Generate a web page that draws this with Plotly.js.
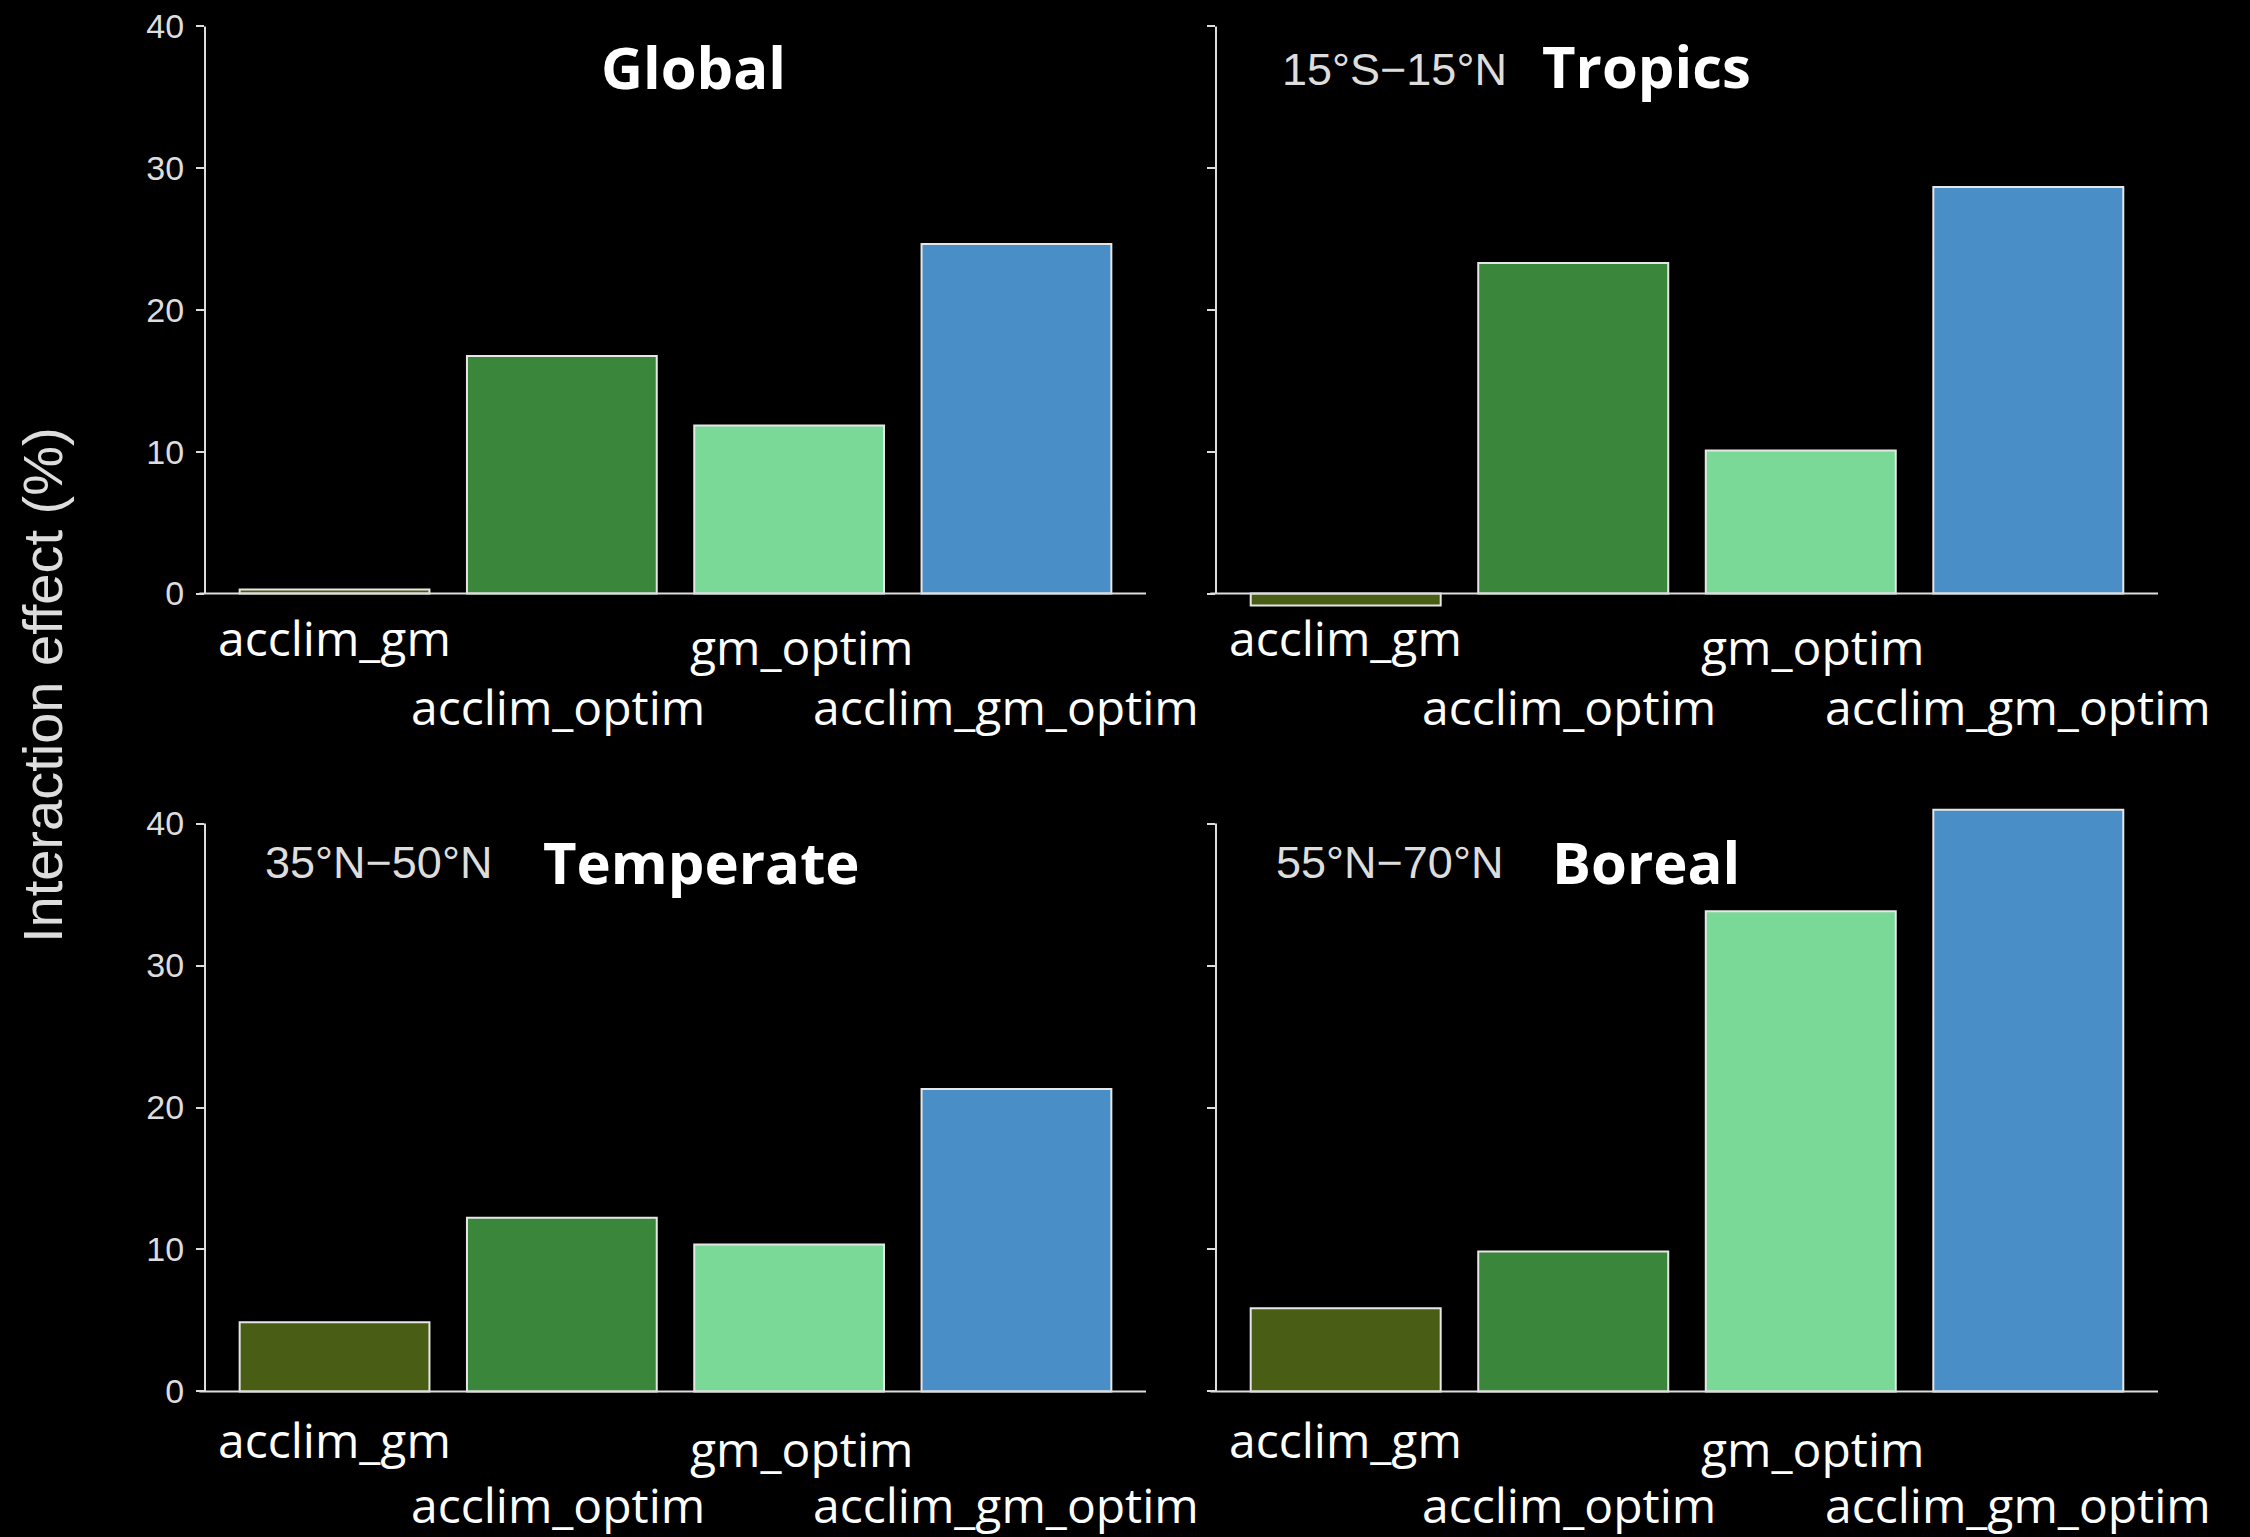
<!DOCTYPE html>
<html>
<head>
<meta charset="utf-8">
<script src="https://cdn.plot.ly/plotly-3.0.1.min.js"></script>
<style>html,body{margin:0;padding:0;background:#000;}#chart{width:2250px;height:1537px;}</style>
</head>
<body>
<div id="chart"></div>
<script>
// ---- data ----
const categories = ['acclim_gm', 'acclim_optim', 'gm_optim', 'acclim_gm_optim'];
const globalVals = [0.28, 16.75, 11.86, 24.66];
const tropicsVals = [-0.85, 23.31, 10.08, 28.68];
const temperateVals = [4.88, 12.23, 10.36, 21.3];
const borealVals = [5.87, 9.85, 33.82, 40.96];
const panelNames = ['Global', 'Tropics', 'Temperate', 'Boreal'];
const panelRanges = ['', '15°S\u221215°N', '35°N\u221250°N', '55°N\u221270°N'];
const yTickVals = [0, 10, 20, 30, 40];
const yTitle = 'Interaction effect (%)';

// ---- styling ----
const barColors = ['#4a5d14', '#3a873c', '#7bd998', '#4a8ec8'];
const W = 2250, H = 1537;
const xDomL = [205 / W, 1146 / W];
const xDomR = [1216 / W, 2158 / W];
const yDomT = [0.59541, 0.99383];
const yDomB = [0.07619, 0.47530];
const yRange = [-2, 41.2];
const xRange = [-0.57, 3.57];

const series = [globalVals, tropicsVals, temperateVals, borealVals];
const axes = [['x', 'y'], ['x2', 'y2'], ['x3', 'y3'], ['x4', 'y4']];

const data = series.map((vals, i) => ({
  type: 'bar',
  x: categories,
  y: vals,
  xaxis: axes[i][0],
  yaxis: axes[i][1],
  marker: {color: barColors, line: {color: '#e6e6e6', width: 2}},
  hoverinfo: 'none',
  showlegend: false
}));

function xa(domain, anchor) {
  return {domain: domain, anchor: anchor, range: xRange, type: 'category',
    showticklabels: false, ticks: '', showline: false, showgrid: false, zeroline: false, fixedrange: true};
}
function ya(domain, anchor, labels) {
  return {domain: domain, anchor: anchor, range: yRange,
    tickvals: yTickVals, ticks: 'outside', ticklen: 8, tickwidth: 2, tickcolor: '#dddddd',
    showticklabels: labels, ticklabelstandoff: 5,
    tickfont: {family: 'Liberation Sans, Arial, sans-serif', size: 34, color: '#dddddd'},
    showline: false, showgrid: false, zeroline: false, fixedrange: true};
}

const shapes = [];
const annotations = [];
// label baseline offsets below the zero line: [top panels, bottom panels]
const labelOffsetsTop = [59, 128, 68, 128];
const labelOffsetsBot = [63, 128, 72, 128];
const labelShiftX = [0, -4, 12, -10];
const catFont = {family: 'Open Sans, Noto Sans, sans-serif', size: 48, color: '#ffffff'};

axes.forEach((ax, i) => {
  const xd = ax[0] === 'x' ? 'x domain' : ax[0] + ' domain';
  const offs = i < 2 ? labelOffsetsTop : labelOffsetsBot;
  // y axis line from 0 to 40
  shapes.push({type: 'line', xref: xd, yref: ax[1], x0: 0, x1: 0, y0: 0, y1: yTickVals[yTickVals.length - 1],
    line: {color: '#dddddd', width: 2}});
  // baseline at 0
  shapes.push({type: 'line', xref: xd, yref: ax[1], x0: -0.006, x1: 1, y0: 0, y1: 0,
    line: {color: '#dddddd', width: 2}});
  categories.forEach((c, k) => {
    annotations.push({xref: ax[0], yref: ax[1], x: c, y: 0, text: c, showarrow: false,
      xanchor: 'center', yanchor: 'middle', xshift: labelShiftX[k], yshift: -(offs[k] - 15), font: catFont});
  });
});

// panel titles
const titlePos = [
  {name: [693 / W, 0.9567, 'center'], range: null},
  {name: [1540 / W, 0.9576, 'left'], range: [1280 / W, 0.9550]},
  {name: [541 / W, 0.4392, 'left'], range: [263 / W, 0.4386]},
  {name: [1550 / W, 0.4392, 'left'], range: [1274 / W, 0.4386]}
];
titlePos.forEach((p, i) => {
  annotations.push({xref: 'paper', yref: 'paper', x: p.name[0], y: p.name[1], xanchor: p.name[2], yanchor: 'middle',
    text: '<b>' + panelNames[i] + '</b>', showarrow: false,
    font: {family: 'Open Sans, Noto Sans, sans-serif', size: 58, color: '#ffffff'}});
  if (p.range) {
    annotations.push({xref: 'paper', yref: 'paper', x: p.range[0], y: p.range[1], xanchor: 'left', yanchor: 'middle',
      text: panelRanges[i], showarrow: false,
      font: {family: 'Liberation Sans, Arial, sans-serif', size: 45, color: '#dddddd'}});
  }
});

// y axis title
annotations.push({xref: 'paper', yref: 'paper', x: 42 / W, y: 0.5543, xanchor: 'center', yanchor: 'middle',
  text: yTitle, textangle: -90, showarrow: false,
  font: {family: 'Liberation Sans, Arial, sans-serif', size: 56, color: '#dddddd'}});

const layout = {
  width: W, height: H,
  margin: {l: 0, r: 0, t: 0, b: 0},
  paper_bgcolor: '#000000', plot_bgcolor: '#000000',
  bargap: 0.165,
  xaxis: xa(xDomL, 'y'), yaxis: ya(yDomT, 'x', true),
  xaxis2: xa(xDomR, 'y2'), yaxis2: ya(yDomT, 'x2', false),
  xaxis3: xa(xDomL, 'y3'), yaxis3: ya(yDomB, 'x3', true),
  xaxis4: xa(xDomR, 'y4'), yaxis4: ya(yDomB, 'x4', false),
  shapes: shapes,
  annotations: annotations,
  showlegend: false
};

Plotly.newPlot('chart', data, layout, {staticPlot: true, displayModeBar: false});
</script>
</body>
</html>
